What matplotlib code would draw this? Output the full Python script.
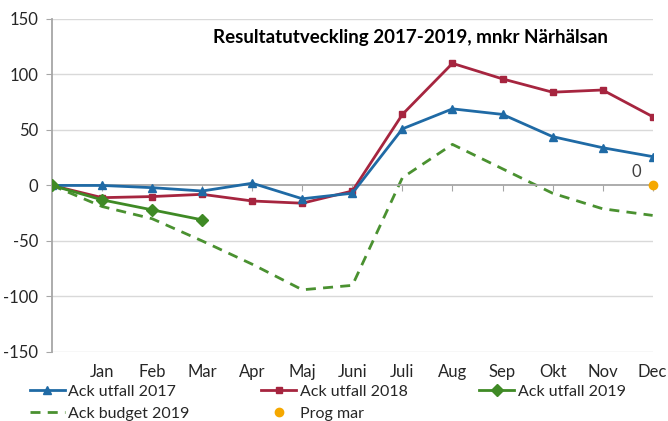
import matplotlib.pyplot as plt
import matplotlib.transforms as mtransforms

plt.rcParams['font.family'] = ['Lato', 'DejaVu Sans']

# Data
months = ["", "Jan", "Feb", "Mar", "Apr", "Maj", "Juni", "Juli", "Aug", "Sep", "Okt", "Nov", "Dec"]
utfall_2017 = [0, 0, -2, -5, 2, -12, -7, 51, 69, 64, 44, 34, 26]
utfall_2018 = [0, -11, -10, -8, -14, -16, -5, 64, 110, 96, 84, 86, 62]
utfall_2019 = [0, -13, -22, -31]
budget_2019 = [0, -19, -30, -50, -71, -94, -90, 7, 37, 15, -7, -21, -27]
prog_mar_x = [12]
prog_mar_y = [0]
yticks = [-150, -100, -50, 0, 50, 100, 150]

fig = plt.figure(figsize=(6.68, 4.21), dpi=100)
ax = fig.add_axes([0.078, 0.164, 0.899, 0.791])

x_all = list(range(len(months)))

# gridlines
for y in yticks:
    if y != 0:
        ax.axhline(y, color="#d9d9d9", lw=1.0, zorder=0)

ax.plot(x_all[:len(budget_2019)], budget_2019, color="#4a9130", lw=2, ls=(0, (3.6, 2.6)),
        label="Ack budget 2019", zorder=2)
ax.plot(x_all, utfall_2018, color="#a6253f", lw=2, marker="s", ms=5,
        label="Ack utfall 2018", zorder=3)
ax.plot(x_all, utfall_2017, color="#1f6aa5", lw=2, marker="^", ms=6,
        label="Ack utfall 2017", zorder=4)
ax.plot(x_all[:len(utfall_2019)], utfall_2019, color="#3f8a25", lw=2, marker="D", ms=6,
        label="Ack utfall 2019", zorder=5)
ax.plot(prog_mar_x, prog_mar_y, ls="none", marker="o", ms=6, color="#f5a800",
        label="Prog mar", zorder=6, clip_on=False)
ax.text(prog_mar_x[0] - 0.24, prog_mar_y[0] + 5, str(prog_mar_y[0]), ha="right", va="bottom",
        fontsize=12, color="#404040")

ax.set_xlim(0, 12)
ax.set_ylim(-150, 150)
ax.set_yticks(yticks)
ax.set_yticklabels([str(v) for v in yticks], fontsize=12, color="#262626")
ax.set_xticks(x_all[1:])
ax.set_xticklabels([])
ax.tick_params(axis="y", direction="out", length=4, color="#a6a6a6", pad=6)
ax.tick_params(axis="x", direction="out", length=4, color="#a6a6a6")

for s in ["top", "right"]:
    ax.spines[s].set_visible(False)
ax.spines["bottom"].set_position(("data", 0))
ax.spines["bottom"].set_color("#a6a6a6")
ax.spines["bottom"].set_linewidth(1.3)
ax.spines["left"].set_color("#a6a6a6")
ax.spines["left"].set_linewidth(1.3)

trans = mtransforms.blended_transform_factory(ax.transData, ax.transAxes)
for i, m in enumerate(months):
    if m:
        ax.text(i, -0.06, m, transform=trans, ha="center", va="center", fontsize=12, color="#262626")

ax.text(0.597, 0.943, "Resultatutveckling 2017-2019, mnkr Närhälsan", transform=ax.transAxes,
        ha="center", va="center", fontsize=13.5, fontweight="bold", color="#000000")

handles, labels = ax.get_legend_handles_labels()
order = ["Ack utfall 2017", "Ack budget 2019", "Ack utfall 2018", "Prog mar", "Ack utfall 2019"]
hmap = dict(zip(labels, handles))
leg = fig.legend([hmap[k] for k in order], order, ncol=3, loc="lower left",
                 bbox_to_anchor=(0.03, -0.022), frameon=False, fontsize=11.5,
                 handlelength=2.2, handletextpad=0.2, columnspacing=4.5,
                 labelspacing=0.5, borderaxespad=0.2)
for t in leg.get_texts():
    t.set_color("#262626")

fig.savefig("out.png", dpi=100)
